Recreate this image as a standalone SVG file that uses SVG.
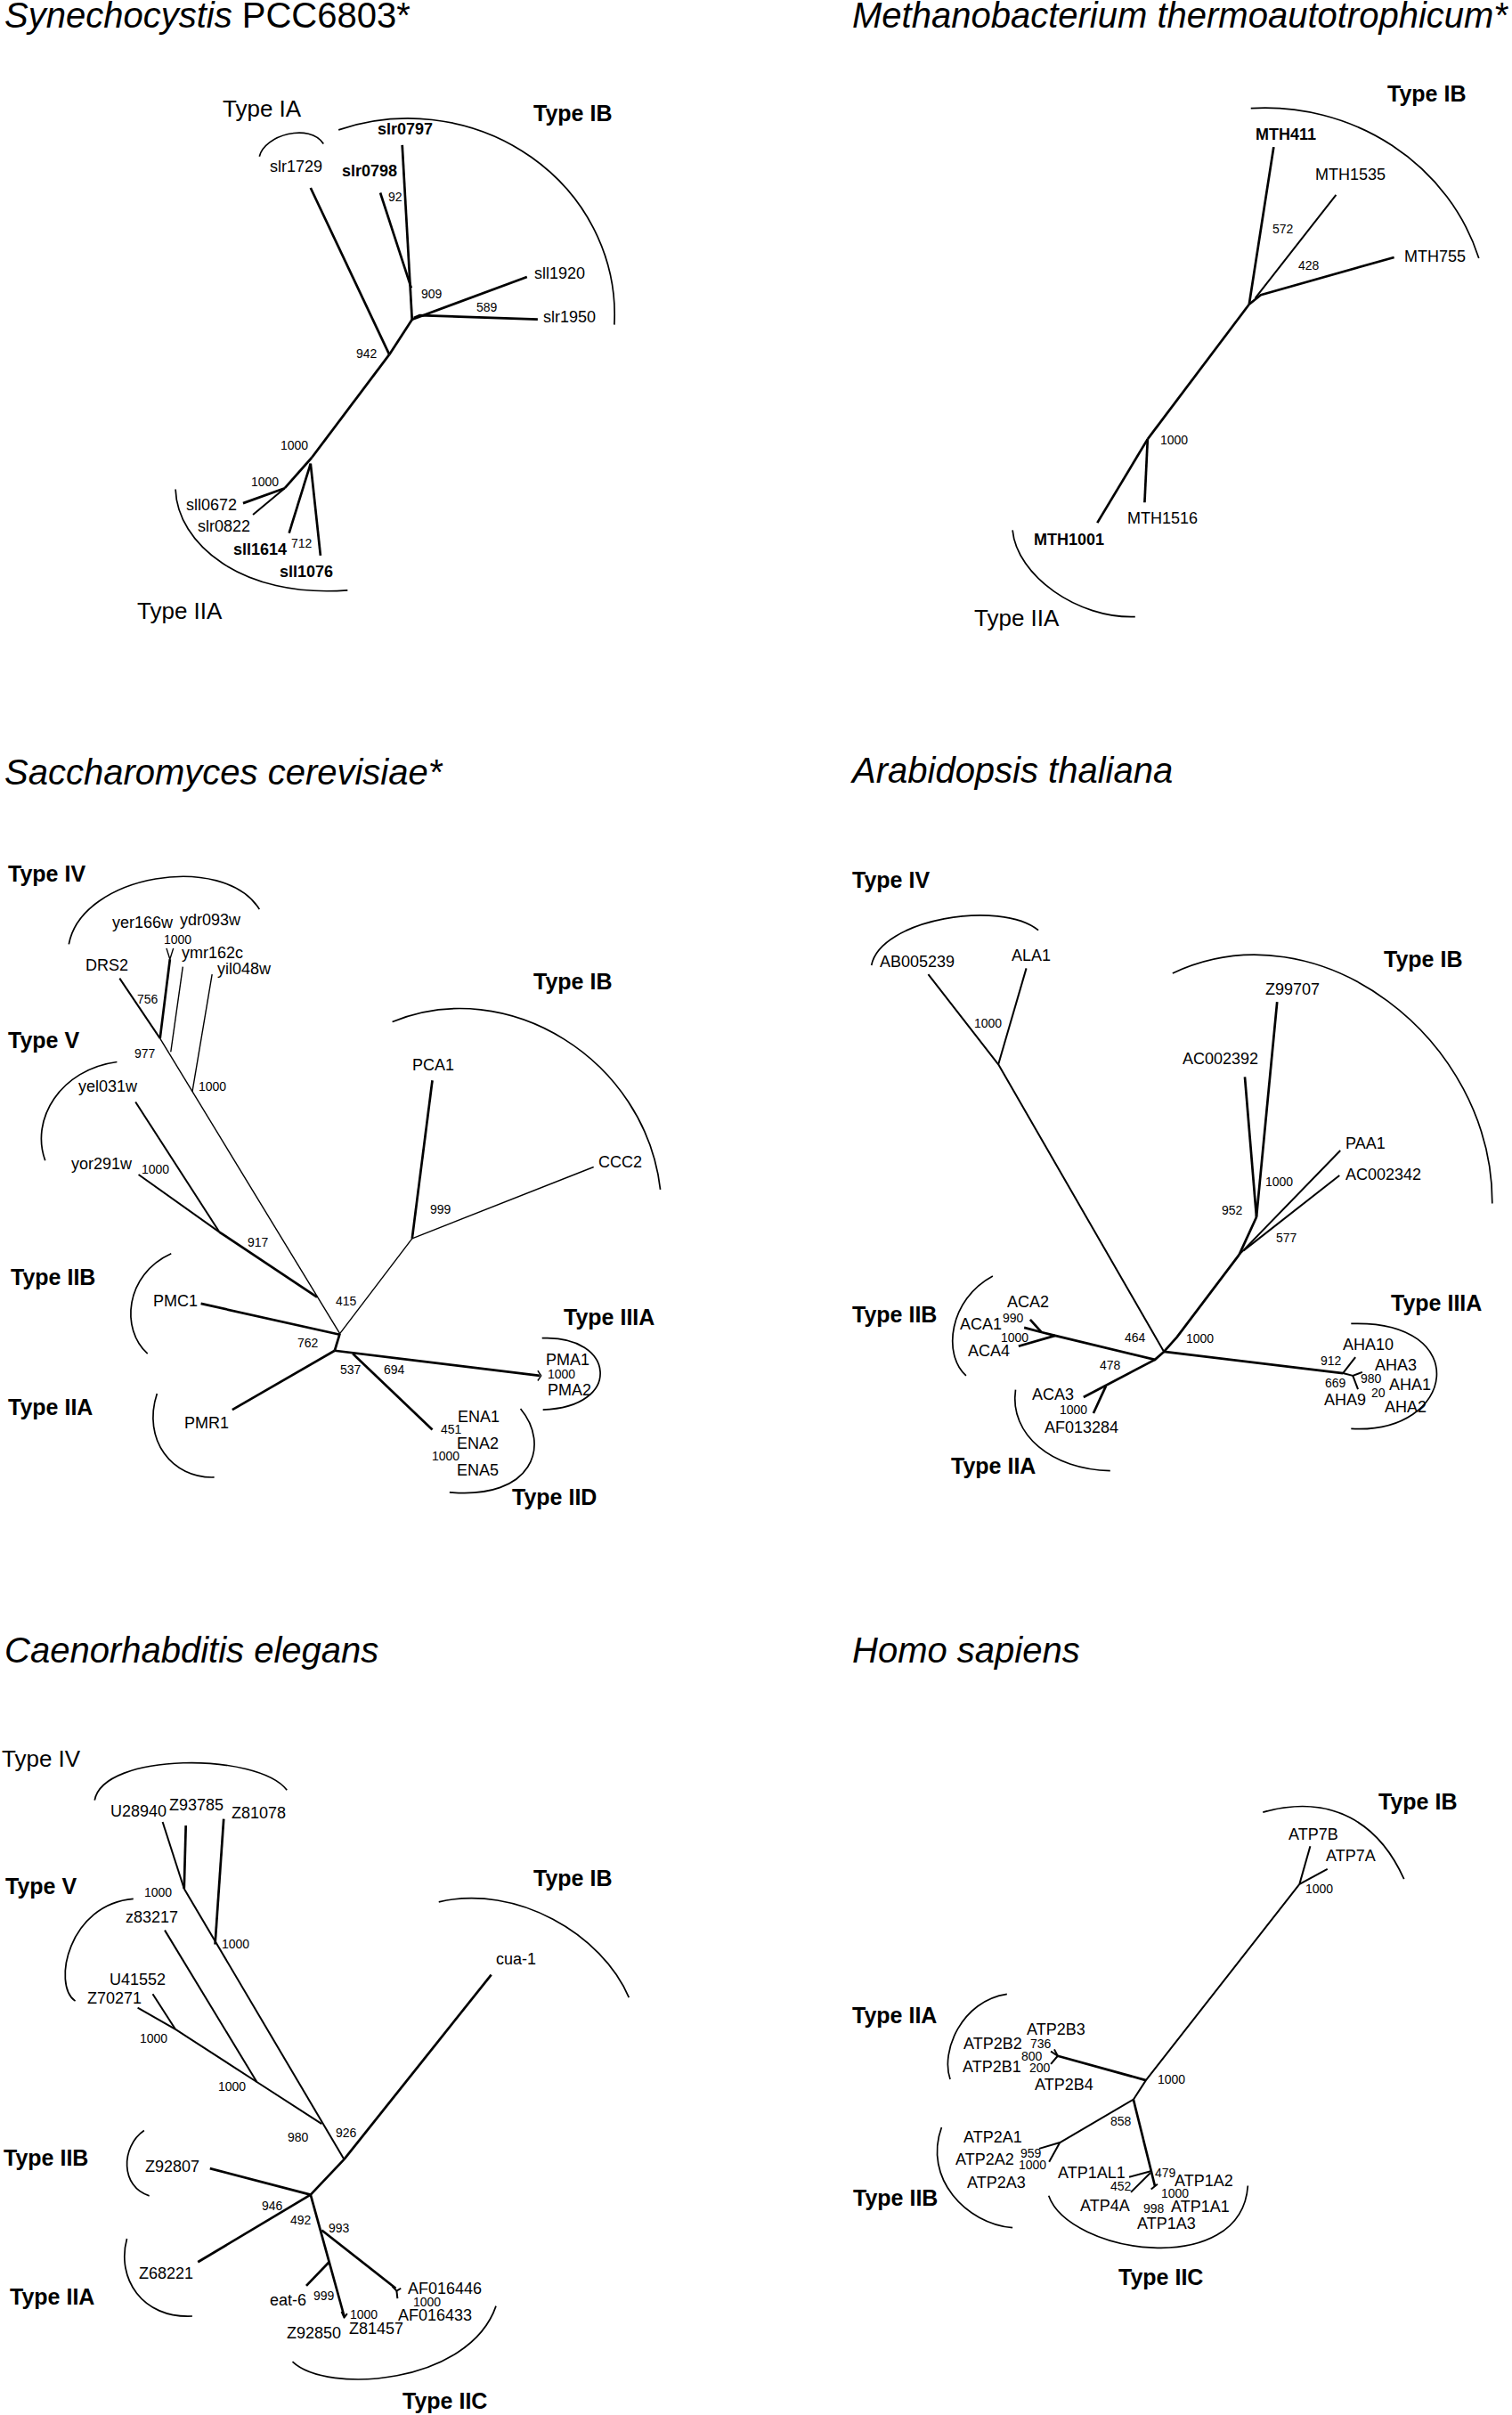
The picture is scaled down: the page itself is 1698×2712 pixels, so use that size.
<svg xmlns="http://www.w3.org/2000/svg" width="1698" height="2712" viewBox="0 0 1698 2712">
<style>
text{font-family:"Liberation Sans",Arial,sans-serif;fill:#000}
.ti{font-size:40px;font-style:italic}
.ty{font-size:26px}
.tb{font-size:25px;font-weight:bold}
.lf{font-size:18px}
.lb{font-size:18px;font-weight:bold}
.bs{font-size:14px}
path{fill:none;stroke:#000;vector-effect:non-scaling-stroke;stroke-linecap:butt;stroke-linejoin:round}
.b{stroke-width:2.7}
.m{stroke-width:2}
.t{stroke-width:1.4}
.a{stroke-width:1.7}
</style>
<rect width="1698" height="2712" fill="#fff"/>

<!-- Panel 1: Synechocystis -->
<g id="panel-synechocystis">
<text class="ti" x="5" y="31">Synechocystis<tspan style="font-style:normal"> PCC6803*</tspan></text>
<g id="p1-connectors" transform="translate(0,0) scale(0.4831,0.4587)">
<path class="b" d="M935,355 L958,785"/>
<path class="b" d="M884,472 L956,705"/>
<path class="b" d="M958,782 L1225,678"/>
<path class="b" d="M962,778 L975,772 L1250,782"/>
<path class="b" d="M958,782 L905,868"/>
<path class="b" d="M722,460 L905,868"/>
<path class="b" d="M905,868 L725,1120"/>
<path class="b" d="M725,1120 L662,1195"/>
<path class="b" d="M662,1195 L565,1232"/>
<path class="m" d="M662,1195 L588,1260"/>
<path class="b" d="M722,1135 L672,1305"/>
<path class="b" d="M722,1135 L745,1360"/>
<path class="a" d="M603,383 C615,330 720,300 752,352"/>
<path class="a" d="M787,318 A480,480 0 0 1 1428,795"/>
<path class="a" d="M408,1198 C412,1330 560,1465 808,1445"/>
</g>
<g id="p1-clades">
<text class="ty" x="250" y="131">Type IA</text>
<text class="tb" x="599" y="136">Type IB</text>
<text class="ty" x="154" y="695">Type IIA</text>
</g>
<g id="p1-slr1729"><text class="lf" x="303" y="193">slr1729</text></g>
<g id="p1-slr0797"><text class="lb" x="424" y="151">slr0797</text></g>
<g id="p1-slr0798"><text class="lb" x="384" y="198">slr0798</text></g>
<g id="p1-sll1920"><text class="lf" x="600" y="313">sll1920</text></g>
<g id="p1-slr1950"><text class="lf" x="610" y="362">slr1950</text></g>
<g id="p1-sll0672"><text class="lf" x="209" y="573">sll0672</text></g>
<g id="p1-slr0822"><text class="lf" x="222" y="597">slr0822</text></g>
<g id="p1-sll1614"><text class="lb" x="262" y="623">sll1614</text></g>
<g id="p1-sll1076"><text class="lb" x="314" y="648">sll1076</text></g>
<g id="p1-bootstrap">
<text class="bs" x="436" y="226">92</text>
<text class="bs" x="473" y="335">909</text>
<text class="bs" x="535" y="350">589</text>
<text class="bs" x="400" y="402">942</text>
<text class="bs" x="315" y="505">1000</text>
<text class="bs" x="282" y="546">1000</text>
<text class="bs" x="327" y="615">712</text>
</g>
</g>

<!-- Panel 2: Methanobacterium -->
<g id="panel-methanobacterium">
<text class="ti" x="957" y="31">Methanobacterium thermoautotrophicum*</text>
<g id="p2-connectors" transform="translate(940,0) scale(0.4831,0.4587)">
<path class="b" d="M1015,360 L958,745"/>
<path class="m" d="M1160,477 L972,730"/>
<path class="b" d="M1295,630 L985,722 L958,745"/>
<path class="b" d="M958,745 L722,1075"/>
<path class="b" d="M722,1075 L605,1280"/>
<path class="b" d="M722,1075 L715,1230"/>
<path class="a" d="M962,265 A520,520 0 0 1 1492,632"/>
<path class="a" d="M408,1298 C418,1410 560,1515 693,1510"/>
</g>
<g id="p2-clades">
<text class="tb" x="1558" y="114">Type IB</text>
<text class="ty" x="1094" y="703">Type IIA</text>
</g>
<g id="p2-MTH411"><text class="lb" x="1410" y="157">MTH411</text></g>
<g id="p2-MTH1535"><text class="lf" x="1477" y="202">MTH1535</text></g>
<g id="p2-MTH755"><text class="lf" x="1577" y="294">MTH755</text></g>
<g id="p2-MTH1516"><text class="lf" x="1266" y="588">MTH1516</text></g>
<g id="p2-MTH1001"><text class="lb" x="1161" y="612">MTH1001</text></g>
<g id="p2-bootstrap">
<text class="bs" x="1429" y="262">572</text>
<text class="bs" x="1458" y="303">428</text>
<text class="bs" x="1303" y="499">1000</text>
</g>
</g>

<!-- Panel 3: Saccharomyces -->
<g id="panel-saccharomyces">
<text class="ti" x="5" y="881">Saccharomyces cerevisiae*</text>
<g id="p3-connectors" transform="translate(0,830) scale(0.4831,0.562)">
<path class="b" d="M372,598 L395,440"/>
<path class="t" d="M387,418 L395,440 L403,418"/>
<path class="m" d="M278,478 L372,598"/>
<path class="t" d="M372,598 L790,1188"/>
<path class="t" d="M397,625 L425,455"/>
<path class="t" d="M447,705 L493,470"/>
<path class="m" d="M315,725 L510,985"/>
<path class="m" d="M322,870 L510,985"/>
<path class="b" d="M510,985 L737,1115"/>
<path class="t" d="M790,1188 L958,998"/>
<path class="b" d="M958,998 L1005,682"/>
<path class="t" d="M958,998 L1380,855"/>
<path class="b" d="M467,1128 L790,1190"/>
<path class="b" d="M790,1188 L778,1222"/>
<path class="b" d="M778,1222 L540,1340"/>
<path class="b" d="M778,1222 L1255,1272"/>
<path class="t" d="M1250,1262 L1258,1272 L1250,1282"/>
<path class="b" d="M820,1228 L1005,1380"/>
<path class="a" d="M160,410 C190,270 520,225 603,340"/>
<path class="a" d="M272,645 C140,660 70,760 105,842"/>
<path class="a" d="M912,565 C1180,470 1500,640 1535,900"/>
<path class="a" d="M398,1028 C290,1070 280,1180 343,1228"/>
<path class="a" d="M1260,1197 C1430,1190 1450,1335 1262,1340"/>
<path class="a" d="M365,1308 C330,1400 400,1478 498,1475"/>
<path class="a" d="M1210,1338 C1280,1410 1240,1520 1045,1505"/>
</g>
<g id="p3-clades">
<text class="tb" x="9" y="990">Type IV</text>
<text class="tb" x="9" y="1177">Type V</text>
<text class="tb" x="599" y="1111">Type IB</text>
<text class="tb" x="12" y="1443">Type IIB</text>
<text class="tb" x="633" y="1488">Type IIIA</text>
<text class="tb" x="9" y="1589">Type IIA</text>
<text class="tb" x="575" y="1690">Type IID</text>
</g>
<g id="p3-yer166w"><text class="lf" x="126" y="1042">yer166w</text></g>
<g id="p3-ydr093w"><text class="lf" x="202" y="1039">ydr093w</text></g>
<g id="p3-ymr162c"><text class="lf" x="204" y="1076">ymr162c</text></g>
<g id="p3-yil048w"><text class="lf" x="244" y="1094">yil048w</text></g>
<g id="p3-DRS2"><text class="lf" x="96" y="1090">DRS2</text></g>
<g id="p3-yel031w"><text class="lf" x="88" y="1226">yel031w</text></g>
<g id="p3-yor291w"><text class="lf" x="80" y="1313">yor291w</text></g>
<g id="p3-PCA1"><text class="lf" x="463" y="1202">PCA1</text></g>
<g id="p3-CCC2"><text class="lf" x="672" y="1311">CCC2</text></g>
<g id="p3-PMC1"><text class="lf" x="172" y="1467">PMC1</text></g>
<g id="p3-PMR1"><text class="lf" x="207" y="1604">PMR1</text></g>
<g id="p3-PMA1"><text class="lf" x="613" y="1533">PMA1</text></g>
<g id="p3-PMA2"><text class="lf" x="615" y="1567">PMA2</text></g>
<g id="p3-ENA1"><text class="lf" x="514" y="1597">ENA1</text></g>
<g id="p3-ENA2"><text class="lf" x="513" y="1627">ENA2</text></g>
<g id="p3-ENA5"><text class="lf" x="513" y="1657">ENA5</text></g>
<g id="p3-bootstrap">
<text class="bs" x="184" y="1060">1000</text>
<text class="bs" x="154" y="1127">756</text>
<text class="bs" x="151" y="1188">977</text>
<text class="bs" x="223" y="1225">1000</text>
<text class="bs" x="159" y="1318">1000</text>
<text class="bs" x="278" y="1400">917</text>
<text class="bs" x="377" y="1466">415</text>
<text class="bs" x="483" y="1363">999</text>
<text class="bs" x="334" y="1513">762</text>
<text class="bs" x="382" y="1543">537</text>
<text class="bs" x="431" y="1543">694</text>
<text class="bs" x="615" y="1548">1000</text>
<text class="bs" x="495" y="1610">451</text>
<text class="bs" x="485" y="1640">1000</text>
</g>
</g>

<!-- Panel 4: Arabidopsis -->
<g id="panel-arabidopsis">
<text class="ti" x="957" y="879">Arabidopsis thaliana</text>
<g id="p4-connectors" transform="translate(940,830) scale(0.4831,0.562)">
<path class="m" d="M760,1224 L375,650 L212,470"/>
<path class="m" d="M375,650 L440,458"/>
<path class="b" d="M760,1224 L790,1195 L935,1030"/>
<path class="b" d="M935,1030 L975,955"/>
<path class="b" d="M948,675 L975,955"/>
<path class="b" d="M1023,525 L975,955"/>
<path class="m" d="M935,1030 L1170,822"/>
<path class="m" d="M945,1022 L1168,872"/>
<path class="b" d="M760,1224 L739,1240 L507,1192"/>
<path class="b" d="M449,1160 L475,1185"/>
<path class="b" d="M435,1176 L475,1185 L507,1192"/>
<path class="b" d="M422,1213 L507,1192"/>
<path class="b" d="M739,1240 L573,1315"/>
<path class="b" d="M625,1293 L596,1347"/>
<path class="b" d="M760,1224 L1176,1267"/>
<path class="m" d="M1176,1267 L1205,1235"/>
<path class="m" d="M1176,1267 L1199,1272 L1221,1265"/>
<path class="m" d="M1199,1272 L1211,1299"/>
<path class="a" d="M80,452 C100,360 380,320 468,382"/>
<path class="a" d="M780,468 C1120,330 1525,600 1523,928"/>
<path class="a" d="M362,1073 C260,1120 245,1230 300,1272"/>
<path class="a" d="M1195,1168 C1480,1160 1440,1390 1195,1378"/>
<path class="a" d="M415,1300 C400,1390 500,1460 635,1462"/>
</g>
<g id="p4-clades">
<text class="tb" x="957" y="997">Type IV</text>
<text class="tb" x="1554" y="1086">Type IB</text>
<text class="tb" x="957" y="1485">Type IIB</text>
<text class="tb" x="1562" y="1472">Type IIIA</text>
<text class="tb" x="1068" y="1655">Type IIA</text>
</g>
<g id="p4-AB005239"><text class="lf" x="988" y="1086">AB005239</text></g>
<g id="p4-ALA1"><text class="lf" x="1136" y="1079">ALA1</text></g>
<g id="p4-Z99707"><text class="lf" x="1421" y="1117">Z99707</text></g>
<g id="p4-AC002392"><text class="lf" x="1328" y="1195">AC002392</text></g>
<g id="p4-PAA1"><text class="lf" x="1511" y="1290">PAA1</text></g>
<g id="p4-AC002342"><text class="lf" x="1511" y="1325">AC002342</text></g>
<g id="p4-ACA2"><text class="lf" x="1131" y="1468">ACA2</text></g>
<g id="p4-ACA1"><text class="lf" x="1078" y="1493">ACA1</text></g>
<g id="p4-ACA4"><text class="lf" x="1087" y="1523">ACA4</text></g>
<g id="p4-ACA3"><text class="lf" x="1159" y="1572">ACA3</text></g>
<g id="p4-AF013284"><text class="lf" x="1173" y="1609">AF013284</text></g>
<g id="p4-AHA10"><text class="lf" x="1508" y="1516">AHA10</text></g>
<g id="p4-AHA3"><text class="lf" x="1544" y="1539">AHA3</text></g>
<g id="p4-AHA1"><text class="lf" x="1560" y="1561">AHA1</text></g>
<g id="p4-AHA9"><text class="lf" x="1487" y="1578">AHA9</text></g>
<g id="p4-AHA2"><text class="lf" x="1555" y="1586">AHA2</text></g>
<g id="p4-bootstrap">
<text class="bs" x="1094" y="1154">1000</text>
<text class="bs" x="1421" y="1332">1000</text>
<text class="bs" x="1372" y="1364">952</text>
<text class="bs" x="1433" y="1395">577</text>
<text class="bs" x="1126" y="1485">990</text>
<text class="bs" x="1124" y="1507">1000</text>
<text class="bs" x="1263" y="1507">464</text>
<text class="bs" x="1332" y="1508">1000</text>
<text class="bs" x="1235" y="1538">478</text>
<text class="bs" x="1190" y="1588">1000</text>
<text class="bs" x="1483" y="1533">912</text>
<text class="bs" x="1488" y="1558">669</text>
<text class="bs" x="1528" y="1553">980</text>
<text class="bs" x="1540" y="1569">20</text>
</g>
</g>

<!-- Panel 5: Caenorhabditis -->
<g id="panel-caenorhabditis">
<text class="ti" x="5" y="1867">Caenorhabditis elegans</text>
<g id="p5-connectors" transform="translate(0,1820) scale(0.4831,0.568)">
<path class="m" d="M428,530 L800,1065"/>
<path class="m" d="M428,530 L378,398"/>
<path class="b" d="M428,530 L432,405"/>
<path class="b" d="M500,640 L520,392"/>
<path class="m" d="M748,995 L597,912 L408,808"/>
<path class="m" d="M408,808 L320,765"/>
<path class="m" d="M408,808 L355,738"/>
<path class="m" d="M383,612 L597,912"/>
<path class="b" d="M800,1065 L1142,700"/>
<path class="b" d="M800,1065 L722,1135"/>
<path class="b" d="M722,1135 L488,1083"/>
<path class="b" d="M722,1135 L460,1268"/>
<path class="b" d="M722,1135 L800,1375"/>
<path class="b" d="M765,1268 L712,1315"/>
<path class="b" d="M748,1205 L920,1320"/>
<path class="m" d="M912,1316 L922,1325 L932,1320"/>
<path class="m" d="M922,1325 L924,1340"/>
<path class="m" d="M794,1366 L800,1378 L807,1370"/>
<path class="a" d="M220,355 C240,260 600,260 667,335"/>
<path class="a" d="M310,550 C160,560 120,720 175,752"/>
<path class="a" d="M1020,556 C1200,520 1400,620 1462,745"/>
<path class="a" d="M335,1008 C280,1040 280,1120 347,1137"/>
<path class="a" d="M295,1222 C270,1300 330,1380 447,1375"/>
<path class="a" d="M680,1465 C760,1530 1090,1510 1153,1355"/>
</g>
<g id="p5-clades">
<text class="ty" x="2" y="1984">Type IV</text>
<text class="tb" x="6" y="2127">Type V</text>
<text class="tb" x="599" y="2118">Type IB</text>
<text class="tb" x="4" y="2432">Type IIB</text>
<text class="tb" x="11" y="2588">Type IIA</text>
<text class="tb" x="452" y="2705">Type IIC</text>
</g>
<g id="p5-U28940"><text class="lf" x="124" y="2040">U28940</text></g>
<g id="p5-Z93785"><text class="lf" x="190" y="2033">Z93785</text></g>
<g id="p5-Z81078"><text class="lf" x="260" y="2042">Z81078</text></g>
<g id="p5-z83217"><text class="lf" x="141" y="2159">z83217</text></g>
<g id="p5-U41552"><text class="lf" x="123" y="2229">U41552</text></g>
<g id="p5-Z70271"><text class="lf" x="98" y="2250">Z70271</text></g>
<g id="p5-cua-1"><text class="lf" x="557" y="2206">cua-1</text></g>
<g id="p5-Z92807"><text class="lf" x="163" y="2439">Z92807</text></g>
<g id="p5-Z68221"><text class="lf" x="156" y="2559">Z68221</text></g>
<g id="p5-eat-6"><text class="lf" x="303" y="2589">eat-6</text></g>
<g id="p5-AF016446"><text class="lf" x="458" y="2576">AF016446</text></g>
<g id="p5-AF016433"><text class="lf" x="447" y="2606">AF016433</text></g>
<g id="p5-Z81457"><text class="lf" x="392" y="2621">Z81457</text></g>
<g id="p5-Z92850"><text class="lf" x="322" y="2626">Z92850</text></g>
<g id="p5-bootstrap">
<text class="bs" x="162" y="2130">1000</text>
<text class="bs" x="249" y="2188">1000</text>
<text class="bs" x="157" y="2294">1000</text>
<text class="bs" x="245" y="2348">1000</text>
<text class="bs" x="323" y="2405">980</text>
<text class="bs" x="377" y="2400">926</text>
<text class="bs" x="294" y="2482">946</text>
<text class="bs" x="326" y="2498">492</text>
<text class="bs" x="369" y="2507">993</text>
<text class="bs" x="352" y="2583">999</text>
<text class="bs" x="464" y="2590">1000</text>
<text class="bs" x="393" y="2604">1000</text>
</g>
</g>

<!-- Panel 6: Homo sapiens -->
<g id="panel-homo">
<text class="ti" x="957" y="1867">Homo sapiens</text>
<g id="p6-connectors" transform="translate(940,1820) scale(0.4831,0.569)">
<path class="m" d="M1100,445 L1075,520"/>
<path class="m" d="M1140,490 L1075,520"/>
<path class="m" d="M1075,520 L718,907 L689,945"/>
<path class="b" d="M718,907 L513,859"/>
<path class="m" d="M497,850 L513,859 L497,875"/>
<path class="m" d="M505,846 L513,859"/>
<path class="m" d="M689,945 L518,1030"/>
<path class="m" d="M470,1042 L518,1030 L493,1068"/>
<path class="b" d="M689,945 L739,1116"/>
<path class="m" d="M679,1098 L731,1086"/>
<path class="m" d="M683,1128 L728,1090"/>
<path class="m" d="M730,1122 L745,1112"/>
<path class="a" d="M990,378 C1150,340 1260,400 1318,510"/>
<path class="a" d="M395,737 C290,750 240,850 263,905"/>
<path class="a" d="M243,1000 C200,1100 300,1190 408,1198"/>
<path class="a" d="M492,1135 C540,1250 940,1300 955,1115"/>
</g>
<g id="p6-clades">
<text class="tb" x="1548" y="2032">Type IB</text>
<text class="tb" x="957" y="2272">Type IIA</text>
<text class="tb" x="958" y="2477">Type IIB</text>
<text class="tb" x="1256" y="2566">Type IIC</text>
</g>
<g id="p6-ATP7B"><text class="lf" x="1447" y="2066">ATP7B</text></g>
<g id="p6-ATP7A"><text class="lf" x="1489" y="2090">ATP7A</text></g>
<g id="p6-ATP2B3"><text class="lf" x="1153" y="2285">ATP2B3</text></g>
<g id="p6-ATP2B2"><text class="lf" x="1082" y="2301">ATP2B2</text></g>
<g id="p6-ATP2B1"><text class="lf" x="1081" y="2327">ATP2B1</text></g>
<g id="p6-ATP2B4"><text class="lf" x="1162" y="2347">ATP2B4</text></g>
<g id="p6-ATP2A1"><text class="lf" x="1082" y="2406">ATP2A1</text></g>
<g id="p6-ATP2A2"><text class="lf" x="1073" y="2431">ATP2A2</text></g>
<g id="p6-ATP2A3"><text class="lf" x="1086" y="2457">ATP2A3</text></g>
<g id="p6-ATP1AL1"><text class="lf" x="1188" y="2446">ATP1AL1</text></g>
<g id="p6-ATP1A2"><text class="lf" x="1319" y="2455">ATP1A2</text></g>
<g id="p6-ATP4A"><text class="lf" x="1213" y="2483">ATP4A</text></g>
<g id="p6-ATP1A1"><text class="lf" x="1315" y="2484">ATP1A1</text></g>
<g id="p6-ATP1A3"><text class="lf" x="1277" y="2503">ATP1A3</text></g>
<g id="p6-bootstrap">
<text class="bs" x="1466" y="2126">1000</text>
<text class="bs" x="1157" y="2300">736</text>
<text class="bs" x="1147" y="2314">800</text>
<text class="bs" x="1156" y="2327">200</text>
<text class="bs" x="1300" y="2340">1000</text>
<text class="bs" x="1247" y="2387">858</text>
<text class="bs" x="1146" y="2423">959</text>
<text class="bs" x="1144" y="2436">1000</text>
<text class="bs" x="1297" y="2445">479</text>
<text class="bs" x="1247" y="2460">452</text>
<text class="bs" x="1304" y="2468">1000</text>
<text class="bs" x="1284" y="2485">998</text>
</g>
</g>
</svg>
